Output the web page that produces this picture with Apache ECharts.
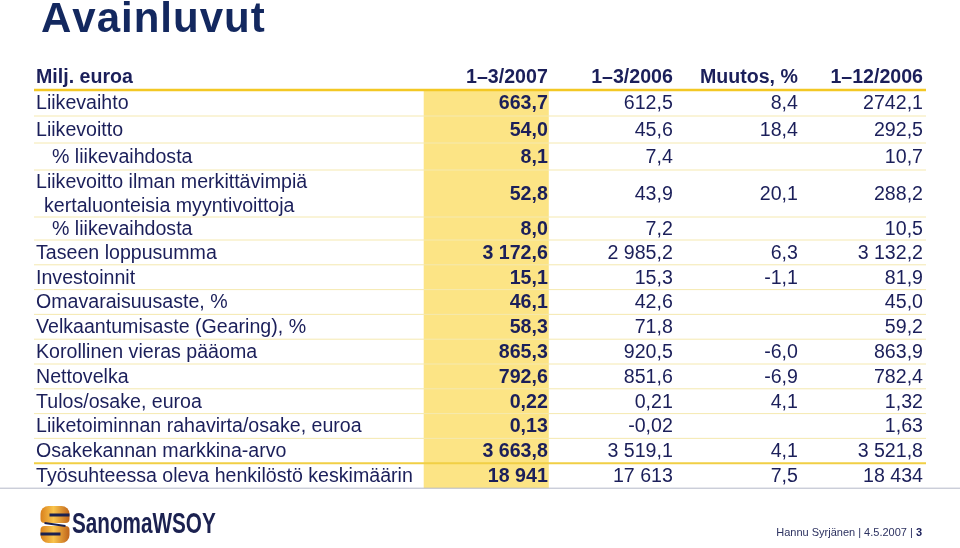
<!DOCTYPE html>
<html><head><meta charset="utf-8">
<script src="https://cdn.jsdelivr.net/npm/echarts@6/dist/echarts.min.js"></script>
<style>html,body{margin:0;padding:0;background:#fff}#c{width:960px;height:548px}</style>
</head><body><div id="c"></div>
<script>
// ---- data ----
const headers = ['Milj. euroa', '1–3/2007', '1–3/2006', 'Muutos, %', '1–12/2006'];
const rowLabels = [
  'Liikevaihto',
  'Liikevoitto',
  '% liikevaihdosta',
  'Liikevoitto ilman merkittävimpiä\nkertaluonteisia myyntivoittoja',
  '% liikevaihdosta',
  'Taseen loppusumma',
  'Investoinnit',
  'Omavaraisuusaste, %',
  'Velkaantumisaste (Gearing), %',
  'Korollinen vieras pääoma',
  'Nettovelka',
  'Tulos/osake, euroa',
  'Liiketoiminnan rahavirta/osake, euroa',
  'Osakekannan markkina-arvo',
  'Työsuhteessa oleva henkilöstö keskimäärin'
];
const q1_2007 = ['663,7','54,0','8,1','52,8','8,0','3 172,6','15,1','46,1','58,3','865,3','792,6','0,22','0,13','3 663,8','18 941'];
const q1_2006 = ['612,5','45,6','7,4','43,9','7,2','2 985,2','15,3','42,6','71,8','920,5','851,6','0,21','-0,02','3 519,1','17 613'];
const muutos  = ['8,4','18,4','','20,1','','6,3','-1,1','','','-6,0','-6,9','4,1','','4,1','7,5'];
const fy_2006 = ['2742,1','292,5','10,7','288,2','10,5','3 132,2','81,9','45,0','59,2','863,9','782,4','1,32','1,63','3 521,8','18 434'];
const titleText = 'Avainluvut';
const footerText = 'Hannu Syrjänen | 4.5.2007 | ';
const pageNo = '3';

// ---- layout: relative row heights (header first), stacked on an inverted value axis ----
const rowHeights = [26, 26, 27, 27, 47, 23, 24.8, 24.8, 24.8, 24.8, 24.8, 24.8, 24.8, 24.8, 24.8, 25];
const rowTops = [];
let acc = 0;
rowHeights.forEach(h => { rowTops.push(acc); acc += h; });
const totalH = acc;

const valueCols = [q1_2007, q1_2006, muutos, fy_2006];
const NAVY = '#1b1f5a';
const FONT = '"Liberation Sans", Arial, sans-serif';
const SIZE = 19.6;
const DY = 1;

function yOf(api, v) { return api.coord([0, v])[1]; }

function rowRender(params, api) {
  const i = params.dataIndex;           // 0 = header
  const top = rowTops[i], h = rowHeights[i];
  const x0 = api.coord([-0.1, 0])[0];
  const children = [];
  if (i === 0) {
    const y = yOf(api, top + h / 2) + DY;
    children.push({type: 'text', style: {text: headers[0], x: x0, y: y,
      textAlign: 'left', textVerticalAlign: 'middle', font: 'bold ' + SIZE + 'px ' + FONT, fill: NAVY}});
    for (let c = 0; c < 4; c++) {
      children.push({type: 'text', style: {text: headers[c + 1], x: api.coord([4 + c, 0])[0] - 1, y: y,
        textAlign: 'right', textVerticalAlign: 'middle', font: 'bold ' + SIZE + 'px ' + FONT, fill: NAVY}});
    }
    return {type: 'group', children};
  }
  const r = i - 1;
  const lines = rowLabels[r].split('\n');
  const n = lines.length;
  lines.forEach((ln, k) => {
    const y = yOf(api, top + h * (k + 0.5) / n) + DY;
    let indent = 0;
    if (ln.charAt(0) === '%') indent = 16;
    else if (k > 0) indent = 8;
    children.push({type: 'text', style: {text: ln, x: x0 + indent, y: y,
      textAlign: 'left', textVerticalAlign: 'middle', font: SIZE + 'px ' + FONT, fill: NAVY}});
  });
  const yc = yOf(api, top + h / 2) + DY;
  valueCols.forEach((col, c) => {
    children.push({type: 'text', style: {text: col[r], x: api.coord([4 + c, 0])[0] - 1, y: yc,
      textAlign: 'right', textVerticalAlign: 'middle',
      font: (c === 0 ? 'bold ' : '') + SIZE + 'px ' + FONT, fill: NAVY}});
  });
  return {type: 'group', children};
}

function highlightRender(params, api) {
  const x1 = api.coord([3, 0])[0], x2 = api.coord([4, 0])[0];
  const y1 = yOf(api, rowTops[1]), y2 = yOf(api, totalH);
  return {type: 'rect', shape: {x: x1, y: y1, width: x2 - x1, height: y2 - y1},
    style: {fill: '#fce485'}};
}

function linesRender(params, api) {
  const xa = api.coord([-0.1, 0])[0] - 2, xb = api.coord([7, 0])[0] + 2;
  const children = [];
  const nRows = rowHeights.length;
  for (let i = 0; i < nRows; i++) {
    const y = yOf(api, rowTops[i] + rowHeights[i]);
    if (i === 0) {
      children.push({type: 'line', shape: {x1: xa, y1: y, x2: xb, y2: y}, style: {stroke: '#f3c824', lineWidth: 2.5}});
    } else if (i === nRows - 1) {
      children.push({type: 'line', shape: {x1: 0, y1: y, x2: 960, y2: y}, style: {stroke: '#b4b8c8', lineWidth: 1}});
    } else if (i === nRows - 2) {
      children.push({type: 'line', shape: {x1: xa, y1: y, x2: xb, y2: y}, style: {stroke: '#f1cf45', lineWidth: 2}});
    } else {
      children.push({type: 'line', shape: {x1: xa, y1: y, x2: xb, y2: y}, style: {stroke: '#f5e9b0', lineWidth: 1}});
    }
  }
  return {type: 'group', children};
}

// title with letter spacing (per-character text)
const TFONT = 'bold 42px ' + FONT;
const mctx = document.createElement('canvas').getContext('2d');
mctx.font = TFONT;
const titleChildren = [];
let tx = 0;
for (const ch of titleText) {
  titleChildren.push({type: 'text', x: tx, y: 0, style: {text: ch, font: TFONT, fill: '#13285f'}});
  tx += mctx.measureText(ch).width + 1.0;
}

const chart = echarts.init(document.getElementById('c'), null, {renderer: 'canvas'});
const rowData = rowHeights.map((_, i) => [i]);
const gold = () => new echarts.graphic.LinearGradient(0, 0, 1, 0, [
  {offset: 0, color: '#d9801c'}, {offset: 0.45, color: '#f9c44c'}, {offset: 1, color: '#c0631a'}]);
chart.setOption({
  animation: false,
  backgroundColor: '#ffffff',
  grid: {left: 36, right: 36, top: 64, bottom: 548 - 64 - totalH},
  xAxis: {type: 'value', min: -0.1, max: 7, show: false},
  yAxis: {type: 'value', min: 0, max: totalH, inverse: true, show: false},
  series: [
    {type: 'custom', name: 'highlight', data: [[0]], renderItem: highlightRender, silent: true, z: 1},
    {type: 'custom', name: 'rules', data: [[0]], renderItem: linesRender, silent: true, z: 2},
    {type: 'custom', name: 'cells', data: rowData, renderItem: rowRender, silent: true, z: 3}
  ],
  graphic: [
    {type: 'group', left: 41, top: -1, children: titleChildren},
    {type: 'group', left: 38, top: 506, children: [
      {type: 'rect', shape: {x: 0, y: 0, width: 29, height: 17, r: [8, 8, 4, 4]}, style: {fill: gold()}},
      {type: 'rect', shape: {x: 0, y: 20, width: 29, height: 17, r: [4, 4, 8, 8]}, style: {fill: gold()}},
      {type: 'polyline', shape: {points: [[9, 9], [29, 9]]}, style: {stroke: '#1b2150', lineWidth: 3}},
      {type: 'polyline', shape: {points: [[0, 28], [20, 28]]}, style: {stroke: '#1b2150', lineWidth: 3}},
      {type: 'polyline', shape: {points: [[4, 17], [25, 20]]}, style: {stroke: '#1b2150', lineWidth: 2}}
    ]},
    {type: 'text', left: 72, top: 510, scaleX: 0.69, style: {text: 'SanomaWSOY', font: 'bold 30px ' + FONT, fill: '#1b2150'}},
    {type: 'text', right: 38, top: 527, style: {
      text: '{n|' + footerText + '}{b|' + pageNo + '}',
      rich: {n: {font: '11px ' + FONT, fill: '#2c3160'}, b: {font: 'bold 11px ' + FONT, fill: '#1b1f5a'}}}}
  ]
});
</script>
</body></html>
